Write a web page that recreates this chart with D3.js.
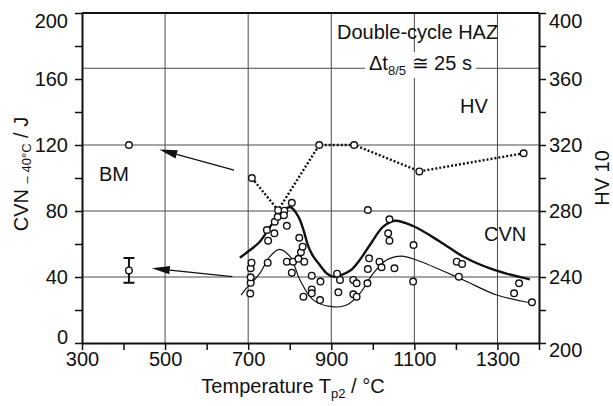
<!DOCTYPE html>
<html>
<head>
<meta charset="utf-8">
<script src="https://cdn.jsdelivr.net/npm/d3@7/dist/d3.min.js"></script>
<style>
  body { margin: 0; background: #fff; }
  svg text { font-family: "Liberation Sans", Arial, sans-serif; fill: #111; }
</style>
</head>
<body>
<svg id="chart" width="613" height="406"></svg>
<script>
// Double-cycle HAZ: Charpy energy at -40 °C (left axis) and hardness HV 10 (right axis)
// versus second peak temperature Tp2.

const tempTicks  = d3.range(300, 1401, 100);
const tempLabels = [300, 500, 700, 900, 1100, 1300];
const cvnTicks   = d3.range(0, 201, 20);
const cvnLabels  = [0, 40, 80, 120, 160, 200];
const hvTicks    = d3.range(200, 401, 20);
const hvLabels   = [200, 240, 280, 320, 360, 400];
const tempGrid   = [500, 700, 900, 1100, 1300];
const cvnGrid    = [40, 80, 120, 166.5];

// individual Charpy results: [Tp2 °C, J]
const cvnPoints = [
  [705, 30], [706, 36.5], [706, 39.8], [706, 45.3], [708, 48.7],
  [747, 48.7], [748, 62], [745, 68.5], [763, 66.5], [764, 73.5],
  [771, 76.5], [787, 80.2], [786, 77.5], [805, 85], [793, 71],
  [793, 49.3], [808, 49.3], [805, 42.6], [821, 51], [827, 55],
  [831, 58.4], [823, 63.8], [835, 49.3], [833, 28.1], [853, 40.8],
  [853, 32.5], [853, 30.1], [874, 37.2], [873, 26], [914, 42],
  [921, 38.2], [917, 30.7], [953, 38.2], [961, 36.2], [953, 29.5],
  [961, 28.1], [987, 36.2], [988, 44.8], [991, 51.3], [988, 80.6],
  [1016, 49.3], [1021, 45.9], [1052, 45.3], [1037, 66.5], [1040, 62],
  [1040, 75], [1098, 59.4], [1097, 37.2], [1202, 49.3], [1215, 47.9],
  [1207, 40.2], [1340, 30.1], [1352, 36.2], [1383, 24.7]
];

// hardness HV 10 of the HAZ
const hvTemp  = [709, 772, 871, 955, 1112, 1363];
const hvValue = [300, 280.5, 320, 320, 304, 315];

// upper (mean) and lower (scatter band) trend curves of CVN
const upperTemp  = [680, 696, 728, 760, 800, 821, 833, 845, 857, 869, 889, 905, 945, 969, 993, 1025, 1053, 1097, 1162, 1218, 1298, 1378];
const upperValue = [51.7, 54.7, 61.4, 72.9, 82.4, 76.5, 68.5, 58.4, 52.3, 48.3, 42.2, 40.2, 43.8, 50.5, 59.4, 70.5, 74.1, 70.9, 61.4, 52.3, 43.8, 38.6];
const lowerTemp  = [683, 692, 728, 752, 775, 801, 825, 857, 901, 937, 969, 1001, 1033, 1069, 1105, 1218, 1298, 1378];
const lowerValue = [29, 32, 42.2, 52.3, 56.8, 52.3, 38, 26, 22, 23, 30.1, 42.2, 50.3, 52.7, 50.3, 38.2, 29.1, 24.4];

// base metal reference
const bmTemp = 413;
const bmHV = 320;
const bmCVN = [36.5, 44, 51.5]; // min, mean, max

const svg = d3.select("#chart");
const x   = d3.scaleLinear().domain([300, 1400]).range([82, 539]);
const y   = d3.scaleLinear().domain([0, 200]).range([343, 13]);
const yHV = d3.scaleLinear().domain([200, 400]).range([343, 13]);

// grid
const grid = svg.append("g").attr("stroke", "#4a4a4a").attr("stroke-width", 1);
grid.selectAll("line.v").data(tempGrid).join("line")
  .attr("x1", d => x(d)).attr("x2", d => x(d)).attr("y1", y(0)).attr("y2", y(200));
grid.selectAll("line.h").data(cvnGrid).join("line")
  .attr("x1", x(300)).attr("x2", x(1400)).attr("y1", d => y(d)).attr("y2", d => y(d));

// top frame line
svg.append("line").attr("x1", x(300)).attr("x2", x(1400))
  .attr("y1", y(200)).attr("y2", y(200)).attr("stroke", "#111").attr("stroke-width", 2);

// axes
function styleAxis(g) {
  g.select(".domain").attr("stroke", "#111").attr("stroke-width", 2);
  g.selectAll(".tick line").attr("stroke", "#111").attr("stroke-width", 1.5);
  g.selectAll(".tick text").attr("font-size", 20).attr("fill", "#111")
    .attr("font-family", '"Liberation Sans", Arial, sans-serif');
}
const fmt = labels => d => labels.includes(d) ? d : "";

const gx = svg.append("g").attr("transform", `translate(0,${y(0)})`)
  .call(d3.axisBottom(x).tickValues(tempTicks).tickFormat(fmt(tempLabels)).tickSize(7).tickSizeOuter(0).tickPadding(2))
  .call(styleAxis);

const gl = svg.append("g").attr("transform", `translate(${x(300)},0)`)
  .call(d3.axisLeft(y).tickValues(cvnTicks).tickFormat(fmt(cvnLabels)).tickSize(7).tickSizeOuter(0).tickPadding(7))
  .call(styleAxis);
gl.selectAll(".tick text").filter(d => d === 200).attr("y", 8);
gl.selectAll(".tick text").filter(d => d === 0).attr("y", -6);

const gr = svg.append("g").attr("transform", `translate(${x(1400)},0)`)
  .call(d3.axisRight(yHV).tickValues(hvTicks).tickFormat(fmt(hvLabels)).tickSize(7).tickSizeOuter(0).tickPadding(3))
  .call(styleAxis);
gr.selectAll(".tick text").filter(d => d === 400).attr("y", 8);
gr.selectAll(".tick text").filter(d => d === 200).attr("y", 7);

// axis titles
const leftTitle = svg.append("text")
  .attr("transform", `translate(28,174) rotate(-90)`)
  .attr("text-anchor", "middle").attr("font-size", 20);
leftTitle.append("tspan").text("CVN ");
leftTitle.append("tspan").attr("font-size", 13).attr("dy", 3).text("\u2013 40°C");
leftTitle.append("tspan").attr("dy", -3).text(" / J");

svg.append("text")
  .attr("transform", `translate(609,178) rotate(-90)`)
  .attr("text-anchor", "middle").attr("font-size", 20).text("HV 10");

const bottomTitle = svg.append("text")
  .attr("x", 293).attr("y", 393).attr("text-anchor", "middle").attr("font-size", 20);
bottomTitle.append("tspan").text("Temperature T");
bottomTitle.append("tspan").attr("font-size", 13).attr("dy", 5).text("p2");
bottomTitle.append("tspan").attr("dy", -5).text(" / °C");

// hardness: dotted polyline with open circles
const hvPts = hvTemp.map((t, i) => [t, hvValue[i]]);
svg.append("path")
  .attr("d", d3.line().x(d => x(d[0])).y(d => yHV(d[1]))(hvPts))
  .attr("fill", "none").attr("stroke", "#111").attr("stroke-width", 2.4)
  .attr("stroke-dasharray", "2,2");

// CVN trend curves
const curve = d3.line().x(d => x(d[0])).y(d => y(d[1])).curve(d3.curveCatmullRom.alpha(0.5));
svg.append("path")
  .attr("d", curve(upperTemp.map((t, i) => [t, upperValue[i]])))
  .attr("fill", "none").attr("stroke", "#111").attr("stroke-width", 2.4);
svg.append("path")
  .attr("d", curve(lowerTemp.map((t, i) => [t, lowerValue[i]])))
  .attr("fill", "none").attr("stroke", "#111").attr("stroke-width", 1.2);

// markers
const marker = sel => sel.attr("r", 3.3).attr("fill", "#fff").attr("stroke", "#111").attr("stroke-width", 1.4);
svg.append("g").selectAll("circle").data(cvnPoints).join("circle")
  .attr("cx", d => x(d[0])).attr("cy", d => y(d[1])).call(marker);
svg.append("g").selectAll("circle").data(hvPts).join("circle")
  .attr("cx", d => x(d[0])).attr("cy", d => yHV(d[1])).call(marker);

// base metal: hardness point and CVN mean with range
svg.append("circle").attr("cx", x(bmTemp)).attr("cy", yHV(bmHV)).call(marker);
const eb = svg.append("g").attr("stroke", "#111").attr("stroke-width", 2);
eb.append("line").attr("x1", x(bmTemp)).attr("x2", x(bmTemp)).attr("y1", y(bmCVN[0])).attr("y2", y(bmCVN[2]));
[bmCVN[0], bmCVN[2]].forEach(v => eb.append("line")
  .attr("x1", x(bmTemp) - 5.5).attr("x2", x(bmTemp) + 5.5).attr("y1", y(v)).attr("y2", y(v)));
svg.append("circle").attr("cx", x(bmTemp)).attr("cy", y(bmCVN[1])).call(marker);

// arrows pointing to the base metal values
const arrows = [
  { from: [666, 104.8], to: [486, 117.2] },
  { from: [662, 40.2],  to: [468, 45.3] }
];
arrows.forEach(a => {
  const x1 = x(a.from[0]), y1 = y(a.from[1]), x2 = x(a.to[0]), y2 = y(a.to[1]);
  const ang = Math.atan2(y2 - y1, x2 - x1);
  const L = 18, W = 4.2;
  const bx = x2 - L * Math.cos(ang), by = y2 - L * Math.sin(ang);
  svg.append("line").attr("x1", x1).attr("y1", y1).attr("x2", bx).attr("y2", by)
    .attr("stroke", "#111").attr("stroke-width", 1.2);
  const px = -Math.sin(ang) * W, py = Math.cos(ang) * W;
  svg.append("path")
    .attr("d", `M${x2},${y2}L${bx + px},${by + py}L${bx - px},${by - py}Z`)
    .attr("fill", "#111");
});

// annotations
svg.append("text").attr("x", 337).attr("y", 38.5).attr("font-size", 20).text("Double-cycle HAZ");

const dt = svg.append("text").attr("x", 369).attr("y", 70).attr("font-size", 20);
dt.append("tspan").text("\u0394t");
dt.append("tspan").attr("font-size", 13).attr("dy", 5).text("8/5");
dt.append("tspan").attr("dy", -5).text(" \u2245 25 s");
const bb = dt.node().getBBox();
svg.insert("rect", () => dt.node())
  .attr("x", bb.x - 4).attr("y", bb.y).attr("width", bb.width + 8).attr("height", bb.height)
  .attr("fill", "#fff");

svg.append("text").attr("x", 460).attr("y", 113).attr("font-size", 20).text("HV");
svg.append("text").attr("x", 484).attr("y", 240.5).attr("font-size", 20).text("CVN");
svg.append("text").attr("x", 99).attr("y", 181).attr("font-size", 20).text("BM");
</script>
</body>
</html>
